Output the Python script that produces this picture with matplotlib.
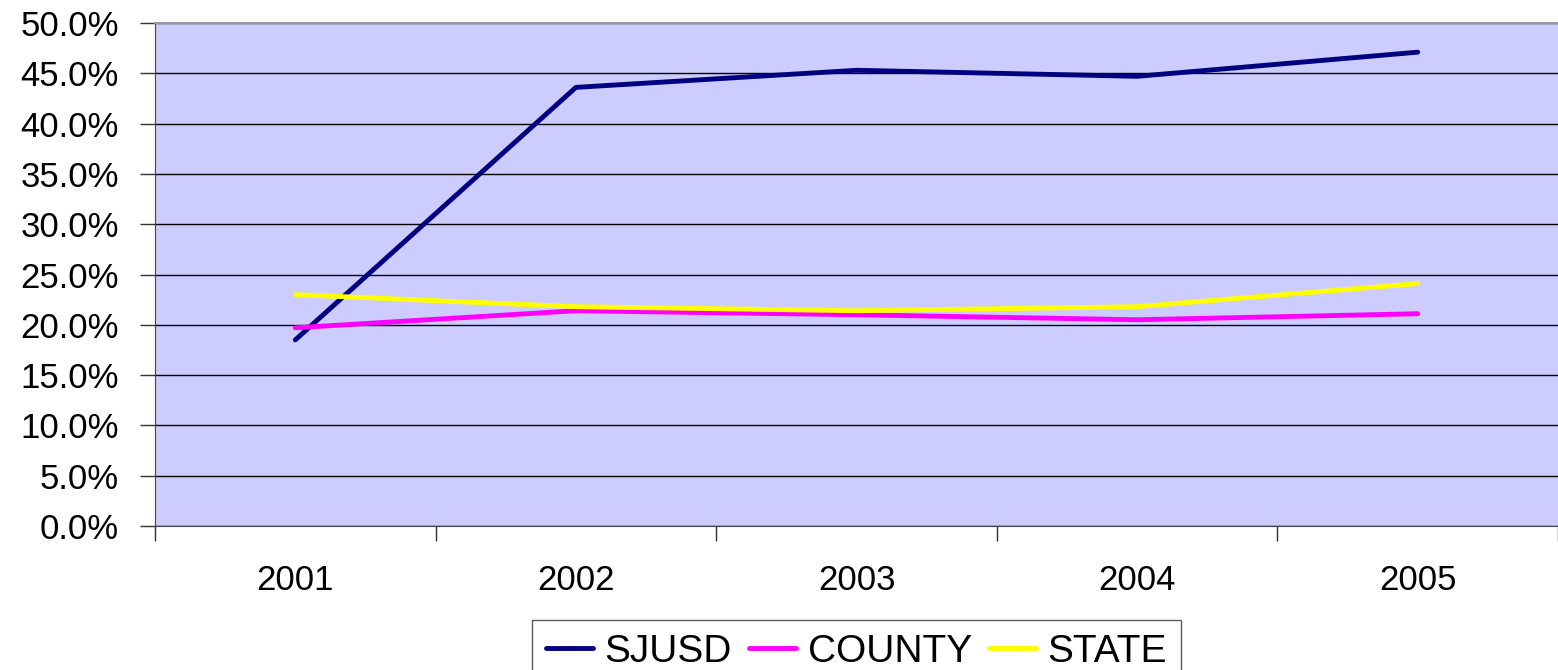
import matplotlib
matplotlib.use("Agg")
import matplotlib.pyplot as plt
from matplotlib.ticker import FuncFormatter, FixedLocator
import numpy as np

years = ["2001", "2002", "2003", "2004", "2005"]
sjusd = [18.5, 43.6, 45.3, 44.7, 47.1]
county = [19.7, 21.4, 21.0, 20.5, 21.1]
state = [23.0, 21.8, 21.4, 21.8, 24.1]

plt.rcParams['font.family'] = ['Liberation Sans', 'DejaVu Sans']

W, H = 1558, 670
FS = 25
fig = plt.figure(figsize=(W/100, H/100), dpi=100)
ax = fig.add_axes([155/W, 1 - 526/H, (W - 155)/W, (526 - 23)/H])
ax.set_facecolor('#CCCCFF')

x = np.arange(len(years))
ax.plot(x, sjusd, color='#000080', lw=3.5, solid_capstyle='round', label='SJUSD', zorder=3)
ax.plot(x, county, color='#FF00FF', lw=3.5, solid_capstyle='round', label='COUNTY', zorder=3)
ax.plot(x, state, color='#FFFF00', lw=3.5, solid_capstyle='round', label='STATE', zorder=3)

ax.set_xlim(-0.5, len(years) - 0.5)
ax.set_ylim(0, 50)
ax.set_yticks(np.arange(0, 50.1, 5))
ax.yaxis.set_major_formatter(FuncFormatter(lambda v, p: f"{v:.1f}%"))
ax.grid(axis='y', color='black', lw=1, zorder=1)
ax.set_axisbelow(True)

ax.set_xticks(x)
ax.set_xticklabels(years)
ax.xaxis.set_minor_locator(FixedLocator(np.arange(-0.5, len(years), 1.0)))
ax.tick_params(axis='x', which='major', length=0, pad=27, labelsize=FS)
ax.tick_params(axis='x', which='minor', length=11, width=1, direction='out', color='#333333')
ax.tick_params(axis='y', length=11, width=1, direction='out', labelsize=FS, pad=15, color='#333333')

ax.spines['right'].set_visible(False)
ax.spines['top'].set_color('#999999')
ax.spines['top'].set_linewidth(1.5)
ax.spines['left'].set_color('#444444')
ax.spines['bottom'].set_color('#444444')

leg = fig.legend(loc='upper center', bbox_to_anchor=(856.5/W, 1 - 620/H), ncol=3,
                 fontsize=28, frameon=True, fancybox=False, handlelength=1.2,
                 handletextpad=0.3, columnspacing=0.45, borderpad=0.35,
                 borderaxespad=0)
leg.get_frame().set_edgecolor('#333333')
leg.get_frame().set_linewidth(1)

fig.savefig('out.png', dpi=100)
